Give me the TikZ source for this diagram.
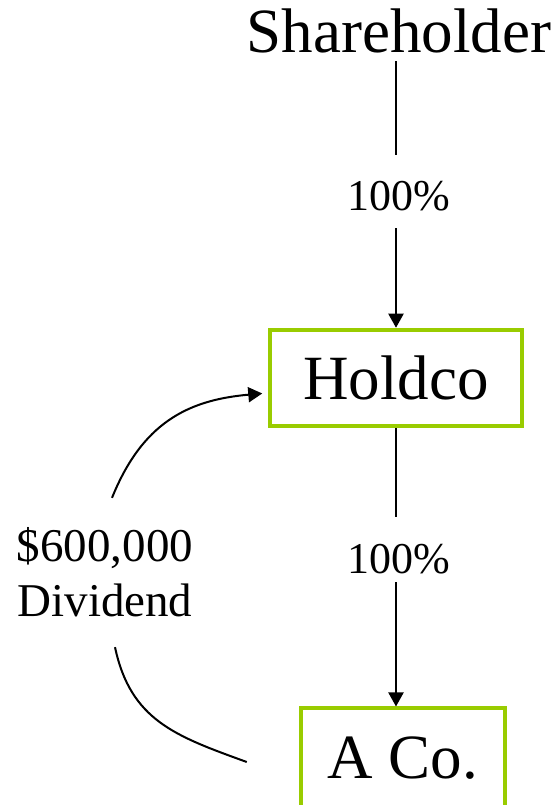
\documentclass[tikz,border=0pt]{standalone}
\usepackage{fontspec}
\setmainfont{Liberation Serif}
\usetikzlibrary{arrows.meta}
\definecolor{boxgreen}{RGB}{153,204,0}
\newcommand{\entityfont}{\fontsize{31.5pt}{38pt}\selectfont}
\newcommand{\pctfont}{\fontsize{22pt}{27.5pt}\selectfont}
\newcommand{\divfont}{\fontsize{23.5pt}{27.5pt}\selectfont}
\begin{document}
\begin{tikzpicture}[
        x=0.5pt, y=0.5pt,
        entity/.style={rectangle, draw=boxgreen, line width=2pt, fill=white, font=\entityfont, inner sep=0pt},
        owner/.style={font=\entityfont, inner sep=3.5pt, anchor=base},
        pct/.style={font=\pctfont, inner sep=0pt, anchor=base},
        link/.style={line width=1pt, draw=black},
        arrow/.style={->, line width=1pt, draw=black, >={Triangle[length=7pt, width=7.5pt]}}
        ]
        \useasboundingbox (0,0) rectangle (560,805);

        % Ownership chain
        \node[owner] (shareholder) at (399,752) {Shareholder};
        \node[entity, minimum width=126.25pt, minimum height=48.25pt] (holdco) at (396,427) {Holdco};
        \node[entity, minimum width=102.25pt, minimum height=50pt] (aco) at (403,46.5) {A Co.};

        % Percentage labels
        \node[pct, text height=28pt, text depth=8.5pt] (pctone) at (399,594) {100\%};
        \node[pct, text height=28.5pt, text depth=4pt] (pcttwo) at (399,231) {100\%};

        % Dividend label and its free end near A Co.
        \node[font=\divfont, align=center, inner xsep=0pt, inner ysep=14.75pt] (dividend) at (105,232.5) {\$600,000\\Dividend};
        \coordinate (acoleft) at ([xshift=-26pt, yshift=-1.75pt]aco.west);

        % Connections
        \draw[link] (shareholder.south -| holdco.north) -- (pctone.north -| holdco.north);
        \draw[arrow] (pctone.south -| holdco.north) -- (holdco.north);
        \draw[link] (holdco.south) -- (pcttwo.north -| holdco.south);
        \draw[arrow] (pcttwo.south -| holdco.south) -- (holdco.south |- aco.north);
        \draw[link] (acoleft) to[out=160, in=-78, looseness=1.1] ([xshift=5pt]dividend.south);
        \draw[arrow, shorten >=2.75pt] ([xshift=3.5pt]dividend.north) to[out=68, in=185, looseness=1.1] ([yshift=-7.5pt]holdco.west);

    \end{tikzpicture}
\end{document}
